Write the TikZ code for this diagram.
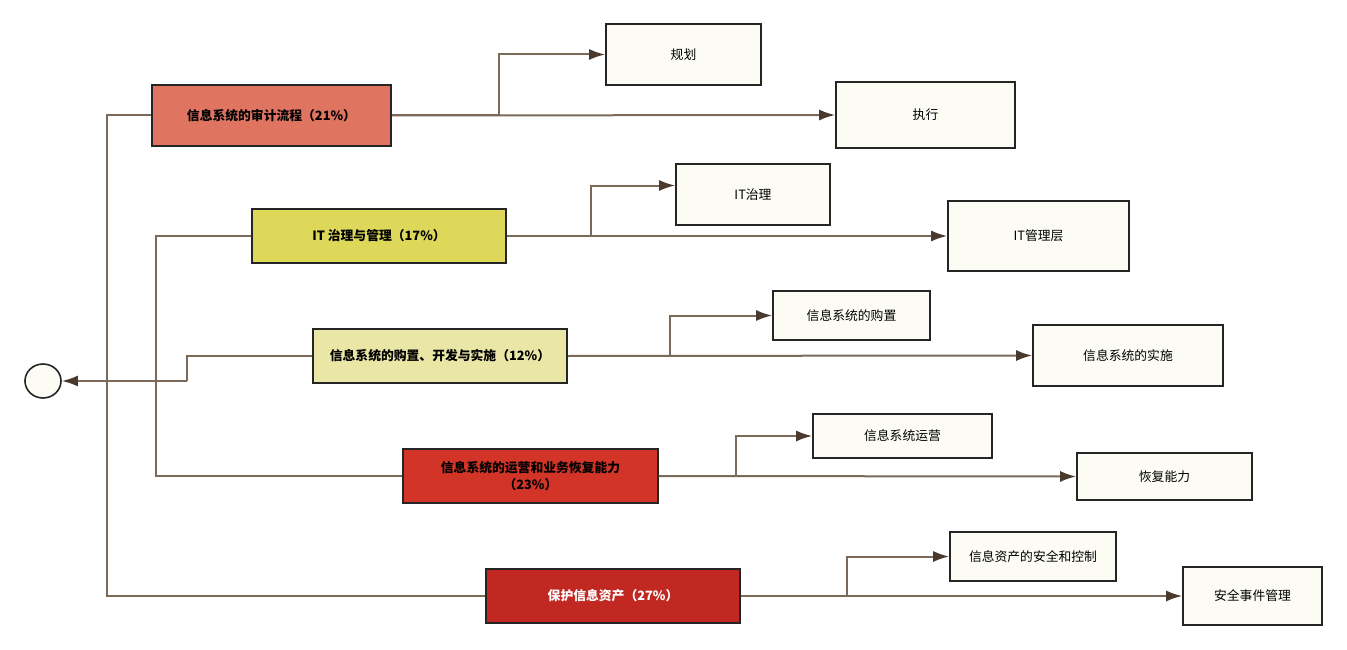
\documentclass[tikz,border=0pt]{standalone}
\usepackage{fontspec}
\setmainfont{Liberation Sans}
\newfontfamily\cjk{Noto Sans CJK SC}
\usetikzlibrary{arrows.meta,positioning,calc,shapes.geometric}
\definecolor{lnc}{HTML}{7B6A5A}
\definecolor{tipc}{HTML}{4A3A2E}
\definecolor{leaff}{HTML}{FCFCF5}
\definecolor{cA}{HTML}{DF7461}
\definecolor{cB}{HTML}{DDD85A}
\definecolor{cC}{HTML}{E9E6A6}
\definecolor{cD}{HTML}{D23428}
\definecolor{cE}{HTML}{C12822}
\definecolor{bord}{HTML}{252525}
\begin{document}
\begin{tikzpicture}[x=1pt,y=-1pt,
  mainbox/.style={draw=bord,line width=1.6pt,minimum height=54pt,font=\cjk\bfseries\fontsize{12.8}{15}\selectfont,align=center,inner sep=0pt},
  leafbox/.style={draw=bord,fill=leaff,line width=1.6pt,font=\cjk\fontsize{12.8}{15}\selectfont,inner sep=0pt},
  conn/.style={draw=lnc,line width=2pt},
  arr/.style={conn,-{Latex[length=16pt,width=11pt,color=tipc]}},
]
\useasboundingbox (0,0) rectangle (1347,650);
% root
\node[draw=bord,fill=leaff,line width=1.6pt,ellipse,minimum width=36pt,minimum height=34pt,inner sep=0pt] (root) at (43,381) {};
% main boxes
\node[mainbox,fill=cA,minimum width=239pt,minimum height=61pt] (b1) at (271.5,115.5) {信息系统的审计流程（21\%）};
\node[mainbox,fill=cB,minimum width=254pt] (b2) at (379,236) {IT 治理与管理（17\%）};
\node[mainbox,fill=cC,minimum width=254pt] (b3) at (440,356) {信息系统的购置、开发与实施（12\%）};
\node[mainbox,fill=cD,minimum width=255pt,font=\cjk\bfseries\fontsize{12.8}{17}\selectfont] (b4) at (530.5,476) {信息系统的运营和业务恢复能力\\（23\%）};
\node[mainbox,fill=cE,minimum width=254pt,text=white] (b5) at (613,596) {保护信息资产（27\%）};
% leaves
\node[leafbox,minimum width=155pt,minimum height=61pt] (l1) at (683.5,54.5) {规划};
\node[leafbox,minimum width=179pt,minimum height=66pt] (l2) at (925.5,115) {执行};
\node[leafbox,minimum width=154pt,minimum height=61pt] (l3) at (753,194.5) {IT治理};
\node[leafbox,minimum width=181pt,minimum height=70pt] (l4) at (1038.5,236) {IT管理层};
\node[leafbox,minimum width=157pt,minimum height=49pt] (l5) at (851.5,315.5) {信息系统的购置};
\node[leafbox,minimum width=190pt,minimum height=61pt] (l6) at (1128,355.5) {信息系统的实施};
\node[leafbox,minimum width=179pt,minimum height=44pt] (l7) at (902.5,436) {信息系统运营};
\node[leafbox,minimum width=175pt,minimum height=47pt] (l8) at (1164.5,476.5) {恢复能力};
\node[leafbox,minimum width=166pt,minimum height=49pt] (l9) at (1033,556.5) {信息资产的安全和控制};
\node[leafbox,minimum width=139pt,minimum height=58pt] (l10) at (1252.5,596) {安全事件管理};
% junction coordinates
\coordinate (j1) at (107,381);
\coordinate (j2) at (156,381);
\coordinate (j3) at (187,381);
% left connectors
\draw[conn] (b1.west) -| (j1);
\draw[conn] (b5.west) -| (j1);
\draw[conn] (b2.west) -| (j2);
\draw[conn] (b4.west) -| (j2);
\draw[conn] (b3.west) -| (j3);
\draw[arr] (j3) -- (root.east);
% right connectors
\draw[arr] (b1.east) -- (l2.west);
\draw[arr] (b1.east) -- ++(107,0) |- (l1.west);
\draw[arr] (b2.east) -- (l4.west);
\draw[arr] (b2.east) -- ++(84,0) |- ([yshift=9pt]l3.west);
\draw[arr] (b3.east) -- (l6.west);
\draw[arr] (b3.east) -- ++(102,0) |- (l5.west);
\draw[arr] (b4.east) -- (l8.west);
\draw[arr] (b4.east) -- ++(77,0) |- (l7.west);
\draw[arr] (b5.east) -- (l10.west);
\draw[arr] (b5.east) -- ++(106,0) |- (l9.west);
\end{tikzpicture}
\end{document}
